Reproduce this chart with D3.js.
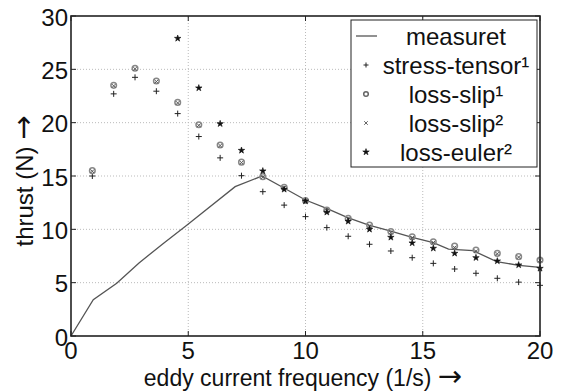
<!DOCTYPE html>
<html lang="en">
<head>
<meta charset="utf-8">
<title>thrust vs eddy current frequency</title>
<script src="https://d3js.org/d3.v7.min.js"></script>
<style>
    body { margin: 0; background: #fff; }
    text { font-family: "Liberation Sans", Arial, sans-serif; fill: #111; }
    .arrow { font-family: "DejaVu Sans", sans-serif; font-size: 29px; }
    .grid line { stroke: #bbb; stroke-width: 1; stroke-dasharray: 1,2; }
</style>
</head>
<body>
<div id="chart"></div>
<script>
    // measured curve
    const measX = [0, 0.95, 1.95, 2.9, 3.95, 4.95, 7.0, 8.15, 9.1, 10.0, 10.9, 11.8, 12.7, 13.6, 14.55, 15.45, 16.1, 17.15, 18.15, 19.1, 20];
    const measY = [0, 3.4, 4.95, 6.85, 8.7, 10.4, 14.0, 15.0, 13.85, 12.75, 11.97, 11.1, 10.4, 9.85, 9.25, 8.75, 8.15, 8.0, 6.97, 6.63, 6.44];

    // simulated points
    const simX = [0.91, 1.82, 2.73, 3.64, 4.55, 5.45, 6.36, 7.27, 8.18, 9.09, 10, 10.91, 11.82, 12.73, 13.64, 14.55, 15.45, 16.36, 17.27, 18.18, 19.09, 20];
    const stressTensor = [15.0, 22.7, 24.25, 22.95, 20.85, 18.7, 16.7, 15.03, 13.53, 12.27, 11.19, 10.16, 9.35, 8.6, 7.97, 7.34, 6.81, 6.28, 5.88, 5.41, 5.05, 4.75];
    const lossSlip1 = [15.5, 23.5, 25.1, 23.9, 21.9, 19.8, 17.9, 16.3, 14.94, 13.95, 12.7, 11.8, 11.03, 10.4, 9.8, 9.3, 8.84, 8.44, 8.06, 7.75, 7.44, 7.13];
    const lossSlip2 = [15.45, 23.45, 25.05, 23.85, 21.85, 19.75, 17.85, 16.25, 14.9, 13.9, 12.65, 11.75, 10.95, 10.3, 9.7, 9.2, 8.75, 8.3, 7.95, 7.7, 7.4, 7.1];
    const lossEuler = [null, null, null, null, 27.9, 23.25, 19.9, 17.4, 15.47, 13.75, 12.65, 11.6, 10.75, 10.0, 9.25, 8.72, 8.22, 7.75, 7.34, 7.03, 6.66, 6.34];

    const xTicks = [0, 5, 10, 15, 20];
    const yTicks = [0, 5, 10, 15, 20, 25, 30];
    const legendLabels = ["measuret", "stress-tensor\u00b9", "loss-slip\u00b9", "loss-slip\u00b2", "loss-euler\u00b2"];

    const width = 563, height = 392;
    const margin = {left: 71, right: 23, top: 16, bottom: 56};

    const svg = d3.select("#chart").append("svg")
        .attr("width", width)
        .attr("height", height);

    const x = d3.scaleLinear().domain([0, 20]).range([margin.left, width - margin.right]);
    const y = d3.scaleLinear().domain([0, 30]).range([height - margin.bottom, margin.top]);

    // grid
    const grid = svg.append("g").attr("class", "grid");
    grid.selectAll(".gx").data(xTicks.slice(1, -1)).enter().append("line")
        .attr("x1", d => x(d)).attr("x2", d => x(d))
        .attr("y1", y(0)).attr("y2", y(30));
    grid.selectAll(".gy").data(yTicks.slice(1, -1)).enter().append("line")
        .attr("x1", x(0)).attr("x2", x(20))
        .attr("y1", d => y(d)).attr("y2", d => y(d));

    // measured line
    const line = d3.line().x(d => x(d[0])).y(d => y(d[1]));
    svg.append("path")
        .datum(d3.zip(measX, measY))
        .attr("d", line)
        .attr("fill", "none")
        .attr("stroke", "#555")
        .attr("stroke-width", 1.3);

    // marker drawers
    function plus(g, cx, cy, s, color) {
        g.append("path").attr("d", `M${cx - s},${cy}H${cx + s}M${cx},${cy - s}V${cy + s}`)
            .attr("stroke", color).attr("stroke-width", 1);
    }
    function cross(g, cx, cy, s, color) {
        g.append("path").attr("d", `M${cx - s},${cy - s}L${cx + s},${cy + s}M${cx - s},${cy + s}L${cx + s},${cy - s}`)
            .attr("stroke", color).attr("stroke-width", 1);
    }
    function ring(g, cx, cy, r, color) {
        g.append("circle").attr("cx", cx).attr("cy", cy).attr("r", r)
            .attr("fill", "none").attr("stroke", color).attr("stroke-width", 1.5);
    }
    const star = d3.symbol().type(d3.symbolStar).size(13);
    function euler(g, cx, cy) {
        g.append("path").attr("d", star).attr("transform", `translate(${cx},${cy})`)
            .attr("fill", "#111").attr("stroke", "#111").attr("stroke-width", 0.6);
    }

    const pts = svg.append("g");
    simX.forEach((xv, i) => {
        plus(pts, x(xv), y(stressTensor[i]), 3, "#222");
    });
    simX.forEach((xv, i) => {
        ring(pts, x(xv), y(lossSlip1[i]), 2.8, "#888");
    });
    simX.forEach((xv, i) => {
        cross(pts, x(xv), y(lossSlip2[i]), 1.8, "#555");
    });
    simX.forEach((xv, i) => {
        if (lossEuler[i] != null) euler(pts, x(xv), y(lossEuler[i]));
    });

    // frame and ticks
    const ax = svg.append("g");
    ax.append("rect")
        .attr("x", x(0)).attr("y", y(30))
        .attr("width", x(20) - x(0)).attr("height", y(0) - y(30))
        .attr("fill", "none").attr("stroke", "#222").attr("stroke-width", 1.6);
    const tl = 5;
    xTicks.forEach(t => {
        ax.append("line").attr("x1", x(t)).attr("x2", x(t)).attr("y1", y(0)).attr("y2", y(0) - tl).attr("stroke", "#222");
        ax.append("line").attr("x1", x(t)).attr("x2", x(t)).attr("y1", y(30)).attr("y2", y(30) + tl).attr("stroke", "#222");
        ax.append("text").attr("x", x(t)).attr("y", y(0) + 23)
            .attr("text-anchor", "middle").attr("font-size", 24).text(t);
    });
    yTicks.forEach(t => {
        ax.append("line").attr("x1", x(0)).attr("x2", x(0) + tl).attr("y1", y(t)).attr("y2", y(t)).attr("stroke", "#222");
        ax.append("line").attr("x1", x(20)).attr("x2", x(20) - tl).attr("y1", y(t)).attr("y2", y(t)).attr("stroke", "#222");
        ax.append("text").attr("x", x(0) - 3).attr("y", y(t) + 9.5)
            .attr("text-anchor", "end").attr("font-size", 24).text(t);
    });

    // axis titles
    const xt = svg.append("text")
        .attr("x", 303).attr("y", 386)
        .attr("text-anchor", "middle").attr("font-size", 23);
    xt.append("tspan").text("eddy current frequency (1/s) ");
    xt.append("tspan").attr("class", "arrow").text("\u2192");
    const yt = svg.append("text")
        .attr("transform", "translate(33,181) rotate(-90)")
        .attr("text-anchor", "middle").attr("font-size", 24);
    yt.append("tspan").text("thrust (N) ");
    yt.append("tspan").attr("class", "arrow").text("\u2192");

    // legend
    const lg = svg.append("g");
    lg.append("rect").attr("x", 351).attr("y", 20).attr("width", 186).attr("height", 147)
        .attr("fill", "#fff").attr("stroke", "#222").attr("stroke-width", 1);
    const rowY = i => 36 + i * 29;
    const mx = 366;
    lg.append("line").attr("x1", 356).attr("x2", 377).attr("y1", rowY(0)).attr("y2", rowY(0))
        .attr("stroke", "#555").attr("stroke-width", 1.3);
    plus(lg, mx, rowY(1), 2.5, "#222");
    ring(lg, mx, rowY(2), 2.3, "#666");
    cross(lg, mx, rowY(3), 1.8, "#666");
    euler(lg, mx, rowY(4));
    legendLabels.forEach((s, i) => {
        lg.append("text").attr("x", 456).attr("y", rowY(i) + 9)
            .attr("text-anchor", "middle").attr("font-size", 24).text(s);
    });
</script>
</body>
</html>
